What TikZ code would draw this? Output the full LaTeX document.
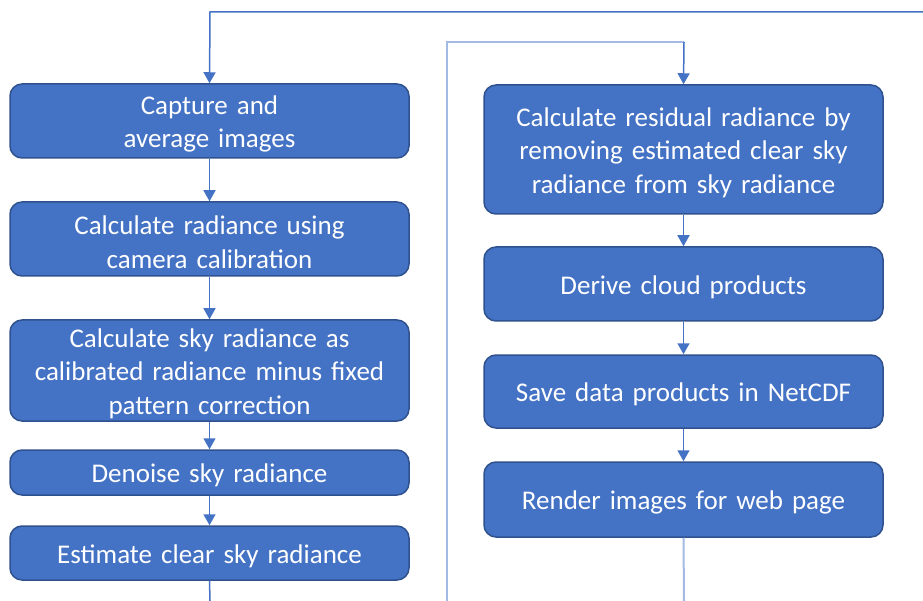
\documentclass[tikz,border=0pt]{standalone}
\usepackage{fontspec}
\setmainfont{Carlito}
\usetikzlibrary{arrows.meta}
\definecolor{boxfill}{HTML}{4472C4}
\definecolor{boxedge}{HTML}{2F528F}
\definecolor{lightline}{HTML}{A3BAE4}
\begin{document}
\begin{tikzpicture}[x=1pt,y=-1pt,
  stepbox/.style={draw=boxedge, line width=1.5pt, fill=boxfill, rounded corners=12pt,
    minimum width=399pt, text width=390pt, align=center, text=white, inner sep=0pt,
    font=\fontsize{27}{33.5}\selectfont, execute at begin node={\rule{0pt}{25pt}}},
  conn/.style={draw=boxfill, line width=1.5pt, -{Triangle[width=12pt,length=11pt]}},
  plain/.style={draw=boxfill, line width=1.5pt},
  lightconn/.style={draw=lightline, line width=2pt}
]
\useasboundingbox (0,0) rectangle (923,601);
\node[stepbox, minimum height=74pt] (b1) at (209.5,121) {Capture and\\average images};
\node[stepbox, minimum height=74pt] (b2) at (209.5,239) {Calculate radiance using\\camera calibration};
\node[stepbox, minimum height=101pt] (b3) at (209.5,370.5) {Calculate sky radiance as\\calibrated radiance minus fixed\\pattern correction};
\node[stepbox, minimum height=45pt] (b4) at (209.5,472.5) {Denoise sky radiance};
\node[stepbox, minimum height=54pt] (b5) at (209.5,553) {Estimate clear sky radiance};

\node[stepbox, minimum height=129pt] (r1) at (683.5,149.5) {Calculate residual radiance by\\removing estimated clear sky\\radiance from sky radiance};
\node[stepbox, minimum height=74pt] (r2) at (683.5,284) {Derive cloud products};
\node[stepbox, minimum height=73pt] (r3) at (683.5,391.5) {Save data products in NetCDF};
\node[stepbox, minimum height=75pt] (r4) at (683.5,499.5) {Render images for web page};

\coordinate (topR) at (923,12);
\coordinate (topL) at (210,12);
\coordinate (botL) at (210,601);
\coordinate (midB) at (447,601);
\coordinate (midT) at (447,42);
\coordinate (midR) at (684,42);
\coordinate (botR) at (684,601);

\draw[conn] (topR) -- (topL) -- (b1.north);
\draw[conn] (b1) -- (b2);
\draw[conn] (b2) -- (b3);
\draw[conn] (b3) -- (b4);
\draw[conn] (b4) -- (b5);
\draw[plain] (b5.south) -- (botL);

\draw[lightconn] (midB) -- (midT) -- (midR);
\draw[conn] (midR) -- (r1.north);
\draw[conn] (r1) -- (r2);
\draw[conn] (r2) -- (r3);
\draw[conn] (r3) -- (r4);
\draw[lightconn] (r4.south) -- (botR);
\end{tikzpicture}
\end{document}
